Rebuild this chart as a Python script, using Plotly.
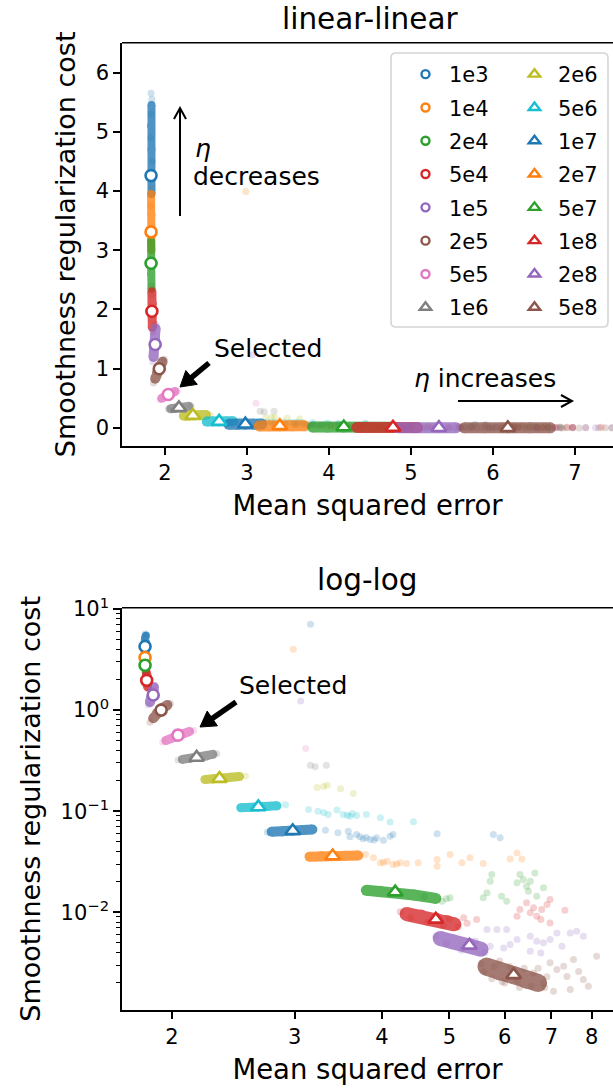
import math
import plotly.graph_objects as go

W, H = 613, 1090
FONT = "DejaVu Sans"

# ---------------- data ----------------
eta_labels = ["1e3", "1e4", "2e4", "5e4", "1e5", "2e5", "5e5", "1e6",
              "2e6", "5e6", "1e7", "2e7", "5e7", "1e8", "2e8", "5e8"]
sel_mse = [1.83, 1.83, 1.83, 1.84, 1.88, 1.93, 2.04, 2.17,
           2.34, 2.66, 2.98, 3.40, 4.18, 4.78, 5.34, 6.18]
sel_cost = [4.26, 3.31, 2.78, 1.97, 1.41, 1.00, 0.565, 0.34,
            0.21, 0.11, 0.064, 0.036, 0.0158, 0.0085, 0.0047, 0.0024]

# dense cores of each cloud (mse, cost)
core_1e3 = [(1.835, 3.95), (1.83, 4.3), (1.835, 4.7), (1.83, 5.1), (1.835, 5.45)]
core_1e4 = [(1.835, 3.0), (1.83, 3.3), (1.835, 3.6), (1.83, 3.95)]
core_2e4 = [(1.835, 2.35), (1.83, 2.6), (1.835, 2.85), (1.83, 3.15)]
core_5e4 = [(1.845, 1.7), (1.84, 1.9), (1.845, 2.1), (1.84, 2.3)]
core_1e5 = [(1.86, 1.2), (1.87, 1.35), (1.88, 1.5), (1.885, 1.68)]
core_2e5 = [(1.88, 0.83), (1.905, 0.94), (1.935, 1.04), (1.97, 1.12)]
core_5e5 = [(1.96, 0.50), (2.0, 0.53), (2.04, 0.565), (2.08, 0.59), (2.12, 0.615)]
core_1e6 = [(2.07, 0.325), (2.12, 0.332), (2.18, 0.34), (2.24, 0.35), (2.29, 0.365)]
core_2e6 = [(2.23, 0.206), (2.29, 0.209), (2.35, 0.212), (2.43, 0.216), (2.50, 0.22)]
core_5e6 = [(2.51, 0.108), (2.58, 0.109), (2.66, 0.11), (2.75, 0.111), (2.83, 0.113)]
core_1e7 = [(2.78, 0.0625), (2.88, 0.063), (2.98, 0.064), (3.08, 0.065), (3.18, 0.066)]
core_2e7 = [(3.15, 0.0355), (3.27, 0.0358), (3.40, 0.036), (3.55, 0.0362), (3.70, 0.0365)]
core_5e7 = [(3.80, 0.0165), (3.98, 0.0161), (4.18, 0.0157), (4.45, 0.0148), (4.78, 0.0137)]
core_1e8 = [(4.34, 0.0096), (4.55, 0.0091), (4.78, 0.0085), (4.95, 0.008), (5.08, 0.0076)]
core_2e8 = [(4.85, 0.0055), (5.05, 0.0051), (5.34, 0.0047), (5.55, 0.0043)]
core_5e8 = [(5.65, 0.0029), (5.9, 0.0026), (6.18, 0.0024), (6.45, 0.00215), (6.7, 0.002)]

# sparse / stray points of each cloud (mse, cost)
stray_1e3 = [(1.83, 5.65), (1.84, 5.55), (1.83, 5.3), (1.825, 4.9), (1.845, 4.5), (3.16, 7.06)]
stray_1e4 = [(1.84, 4.05), (1.825, 3.75), (2.985, 3.99)]
stray_2e4 = [(1.84, 2.25), (1.825, 3.2)]
stray_5e4 = [(1.85, 1.62), (1.835, 2.4)]
stray_1e5 = [(1.85, 1.12), (1.89, 1.75), (3.06, 1.23)]
stray_2e5 = [(1.86, 0.76), (1.99, 1.16)]
stray_5e5 = [(1.94, 0.48), (2.15, 0.63), (3.11, 0.417)]
stray_1e6 = [(2.04, 0.32), (2.32, 0.37), (3.16, 0.284), (3.21, 0.275), (3.33, 0.284)]
stray_2e6 = [(2.55, 0.223), (3.23, 0.171), (3.34, 0.18), (3.30, 0.175), (3.49, 0.167), (3.64, 0.15)]
stray_5e6 = [(2.91, 0.116), (3.14, 0.104), (3.24, 0.100), (3.35, 0.0927), (3.45, 0.1025),
             (3.52, 0.0927), (3.60, 0.0892), (3.68, 0.0906), (3.80, 0.0927), (3.98, 0.0861),
             (4.11, 0.0781), (4.44, 0.0786), (3.57, 0.091), (3.63, 0.095), (3.30, 0.097)]
stray_1e7 = [(2.74, 0.062), (3.32, 0.0649), (3.46, 0.0611), (3.58, 0.0634), (3.60, 0.0558),
             (3.68, 0.0588), (3.76, 0.0533), (3.85, 0.0525), (3.93, 0.0545), (4.02, 0.0517),
             (4.11, 0.0565), (4.15, 0.0588), (4.80, 0.0597), (5.78, 0.0588), (5.91, 0.0545),
             (3.72, 0.056), (3.80, 0.055), (3.90, 0.052)]
stray_2e7 = [(3.79, 0.0373), (3.89, 0.0346), (3.98, 0.0308), (4.07, 0.032), (4.15, 0.0297),
             (4.25, 0.0308), (4.34, 0.0303), (4.51, 0.0308), (4.80, 0.0332), (4.80, 0.0285),
             (5.01, 0.0373), (5.21, 0.0308), (5.35, 0.0346), (5.59, 0.0303), (6.11, 0.0336),
             (6.25, 0.0386), (6.35, 0.0336), (4.02, 0.031), (4.20, 0.030)]
stray_5e7 = [(4.88, 0.01285), (5.01, 0.0139), (5.59, 0.0139), (5.66, 0.01556), (5.72, 0.0203),
             (5.75, 0.0236), (5.94, 0.0144), (6.04, 0.01285), (6.25, 0.01954), (6.31, 0.0236),
             (6.38, 0.0211), (6.45, 0.0181), (6.53, 0.0203), (6.49, 0.01614), (6.67, 0.0144),
             (6.82, 0.01745), (6.63, 0.0245), (4.60, 0.0142), (4.95, 0.0136)]
stray_1e8 = [(5.24, 0.0088), (5.47, 0.00847), (6.25, 0.00913), (6.31, 0.01064), (6.45, 0.0124),
             (6.53, 0.00986), (6.60, 0.01105), (6.67, 0.00913), (6.78, 0.01064), (6.90, 0.0119),
             (6.97, 0.01336), (6.97, 0.00785), (7.32, 0.01047), (6.76, 0.00847), (4.40, 0.0088),
             (4.65, 0.0079), (5.0, 0.0086), (4.9, 0.0074), (4.25, 0.0101), (5.15, 0.0072),
             (5.30, 0.0078)]
stray_2e8 = [(5.66, 0.00675), (5.85, 0.00675), (6.04, 0.00675), (5.72, 0.00461), (5.98, 0.00444),
             (6.11, 0.00479), (6.25, 0.00537), (6.53, 0.00579), (6.67, 0.00516), (6.82, 0.00498),
             (6.97, 0.00537), (7.13, 0.00625), (7.25, 0.00461), (7.45, 0.00625), (7.61, 0.00649),
             (7.78, 0.00579), (6.53, 0.00411), (6.76, 0.00396), (4.95, 0.0049), (5.2, 0.0042),
             (5.45, 0.0052), (4.78, 0.0058), (5.62, 0.0040)]
stray_5e8 = [(6.97, 0.00316), (7.13, 0.00271), (7.29, 0.00292), (7.37, 0.00232), (7.53, 0.0034),
             (7.66, 0.0026), (7.78, 0.00216), (7.91, 0.00185), (8.13, 0.00367), (7.45, 0.00172),
             (7.05, 0.00165), (6.82, 0.002), (5.6, 0.0026), (5.9, 0.0033), (6.0, 0.0020),
             (6.4, 0.0028), (6.3, 0.0018), (5.75, 0.0022), (6.6, 0.0025), (6.9, 0.0023),
             (5.55, 0.0031), (5.8, 0.0029), (6.1, 0.0029), (6.25, 0.0021), (6.55, 0.00185),
             (5.95, 0.00205), (6.7, 0.0028), (6.85, 0.0018)]

cores = [core_1e3, core_1e4, core_2e4, core_5e4, core_1e5, core_2e5, core_5e5, core_1e6,
         core_2e6, core_5e6, core_1e7, core_2e7, core_5e7, core_1e8, core_2e8, core_5e8]
strays = [stray_1e3, stray_1e4, stray_2e4, stray_5e4, stray_1e5, stray_2e5, stray_5e5, stray_1e6,
          stray_2e6, stray_5e6, stray_1e7, stray_2e7, stray_5e7, stray_1e8, stray_2e8, stray_5e8]

lin_xticks = [2, 3, 4, 5, 6, 7]
lin_yticks = [0, 1, 2, 3, 4, 5, 6]
log_xticks = [2, 3, 4, 5, 6, 7, 8]
log_yticks = [0.01, 0.1, 1, 10]
log_yticktext = ["10<sup>\u22122</sup>", "10<sup>\u22121</sup>", "10<sup>0</sup>", "10<sup>1</sup>"]

# ---------------- style ----------------
colors = ["#1f77b4", "#ff7f0e", "#2ca02c", "#d62728", "#9467bd", "#8c564b", "#e377c2", "#7f7f7f",
          "#bcbd22", "#17becf", "#1f77b4", "#ff7f0e", "#2ca02c", "#d62728", "#9467bd", "#8c564b"]
core_width_lin = [8, 8, 8, 9, 10, 10, 9, 9, 10, 10, 11, 11, 11, 11, 11, 11]
core_width_log = [8, 8, 8, 9, 10, 10, 9, 9, 9, 9, 10, 10, 11, 14, 15, 18]
n_circle = 7


def PX(px):
    return px / W


def PY(py):
    return 1 - py / H


fig = go.Figure()

for xa, ya, widths in [("x", "y", core_width_lin), ("x2", "y2", core_width_log)]:
    for i in range(len(eta_labels)):
        c = colors[i]
        sx = [p[0] for p in strays[i]]
        sy = [p[1] for p in strays[i]]
        fig.add_trace(go.Scatter(x=sx, y=sy, mode="markers", xaxis=xa, yaxis=ya,
                                 marker=dict(color=c, size=7, opacity=0.22, line=dict(width=0)),
                                 showlegend=False, hoverinfo="skip"))
    for i in range(len(eta_labels)):
        c = colors[i]
        cx = [p[0] for p in cores[i]]
        cy = [p[1] for p in cores[i]]
        fig.add_trace(go.Scatter(x=cx, y=cy, mode="lines+markers", xaxis=xa, yaxis=ya,
                                 line=dict(color=c, width=widths[i]),
                                 marker=dict(color=c, size=widths[i], line=dict(width=0)),
                                 opacity=0.78, showlegend=False, hoverinfo="skip"))
    for i in range(len(eta_labels)):
        c = colors[i]
        circ = i < n_circle
        fig.add_trace(go.Scatter(x=[sel_mse[i]], y=[sel_cost[i]], mode="markers",
                                 xaxis=xa, yaxis=ya,
                                 marker=dict(symbol="circle" if circ else "triangle-up",
                                             size=11 if circ else 13, color="white",
                                             line=dict(color=c, width=2.6)),
                                 showlegend=False, hoverinfo="skip"))

# legend entries (two columns -> two legends)
for i, lab in enumerate(eta_labels):
    circ = i < n_circle
    fig.add_trace(go.Scatter(x=[None], y=[None], mode="markers", xaxis="x", yaxis="y",
                             name=lab, legend="legend" if i < 8 else "legend2",
                             legendgroup=lab,
                             marker=dict(symbol="circle" if circ else "triangle-up",
                                         size=8 if circ else 10, color="white",
                                         line=dict(color=colors[i], width=2.4)),
                             showlegend=True))

axis_common = dict(showgrid=False, zeroline=False, showline=True, linecolor="black",
                   linewidth=1.6, ticks="outside", ticklen=7, tickwidth=1.6,
                   tickcolor="black", tickfont=dict(family=FONT, size=21, color="black"),
                   automargin=False)
title_font = dict(family=FONT, size=27.5, color="black")

top_dom = [PY(446), PY(42.7)]
bot_dom = [PY(1010), PY(607.7)]
xdom = [PX(122), 1.0]

minor_vals = []
for d in [0.001, 0.01, 0.1, 1]:
    for k in range(2, 10):
        minor_vals.append(k * d)

legend_common = dict(xanchor="left", yanchor="top",
                     font=dict(family=FONT, size=21, color="black"),
                     bgcolor="rgba(0,0,0,0)", borderwidth=0, itemwidth=37,
                     tracegroupgap=3)

fig.update_layout(
    width=W, height=H, autosize=False,
    margin=dict(l=0, r=0, t=0, b=0, pad=0, autoexpand=False),
    paper_bgcolor="white", plot_bgcolor="white",
    font=dict(family=FONT, color="black"),
    xaxis=dict(domain=xdom, range=[1.4756, 7.463], tickmode="array", tickvals=lin_xticks,
               anchor="y", title=dict(text="Mean squared error", font=title_font, standoff=12),
               **axis_common),
    yaxis=dict(domain=top_dom, range=[-0.304, 6.503], tickmode="array", tickvals=lin_yticks,
               anchor="x",
               title=dict(text="Smoothness regularization cost", font=dict(title_font, size=27),
                          standoff=12),
               **axis_common),
    xaxis2=dict(domain=xdom, type="log", range=[0.2294, 0.9335], tickmode="array",
                tickvals=log_xticks, ticktext=[str(v) for v in log_xticks], anchor="y2",
                title=dict(text="Mean squared error", font=title_font, standoff=12),
                **axis_common),
    yaxis2=dict(domain=bot_dom, type="log", range=[-2.967, 1.013], tickmode="array",
                tickvals=log_yticks, ticktext=log_yticktext, anchor="x2",
                minor=dict(ticks="outside", ticklen=4, tickwidth=1.2, tickcolor="black",
                           tickmode="array", tickvals=minor_vals, showgrid=False),
                title=dict(text="Smoothness regularization cost", font=dict(title_font, size=27),
                           standoff=12),
                **axis_common),
    legend=dict(x=PX(402), y=PY(54), **legend_common),
    legend2=dict(x=PX(511), y=PY(54), **legend_common),
    showlegend=True,
)

shapes = []
# top spines
for dom in (top_dom, bot_dom):
    shapes.append(dict(type="line", xref="paper", yref="paper", x0=xdom[0], x1=1.0,
                       y0=dom[1], y1=dom[1], line=dict(color="black", width=1.6)))

# rounded legend frame
lx0, lx1, ly0, ly1 = 391, 608, 53, 327
r = 5
path = (f"M {PX(lx0 + r)},{PY(ly0)} L {PX(lx1 - r)},{PY(ly0)} "
        f"Q {PX(lx1)},{PY(ly0)} {PX(lx1)},{PY(ly0 + r)} L {PX(lx1)},{PY(ly1 - r)} "
        f"Q {PX(lx1)},{PY(ly1)} {PX(lx1 - r)},{PY(ly1)} L {PX(lx0 + r)},{PY(ly1)} "
        f"Q {PX(lx0)},{PY(ly1)} {PX(lx0)},{PY(ly1 - r)} L {PX(lx0)},{PY(ly0 + r)} "
        f"Q {PX(lx0)},{PY(ly0)} {PX(lx0 + r)},{PY(ly0)} Z")
shapes.append(dict(type="path", xref="paper", yref="paper", path=path, layer="above",
                   fillcolor="rgba(255,255,255,0.8)", line=dict(color="#d5d5d5", width=1.6)))


def arrow_shapes(tail, tip, filled, shaft_w, head_len, head_half):
    (x0, y0), (x1, y1) = tail, tip
    dx, dy = x1 - x0, y1 - y0
    L = math.hypot(dx, dy)
    ux, uy = dx / L, dy / L
    nx, ny = -uy, ux
    bx, by = x1 - head_len * ux, y1 - head_len * uy
    c1 = (bx + head_half * nx, by + head_half * ny)
    c2 = (bx - head_half * nx, by - head_half * ny)
    if filled:
        shapes.append(dict(type="line", xref="paper", yref="paper",
                           x0=PX(x0), y0=PY(y0), x1=PX(bx + ux), y1=PY(by + uy),
                           line=dict(color="black", width=shaft_w)))
        p = (f"M {PX(x1)},{PY(y1)} L {PX(c1[0])},{PY(c1[1])} "
             f"L {PX(c2[0])},{PY(c2[1])} Z")
        shapes.append(dict(type="path", xref="paper", yref="paper", path=p,
                           fillcolor="black", line=dict(color="black", width=1)))
    else:
        shapes.append(dict(type="line", xref="paper", yref="paper",
                           x0=PX(x0), y0=PY(y0), x1=PX(x1), y1=PY(y1),
                           line=dict(color="black", width=shaft_w)))
        p = (f"M {PX(c1[0])},{PY(c1[1])} L {PX(x1)},{PY(y1)} "
             f"L {PX(c2[0])},{PY(c2[1])}")
        shapes.append(dict(type="path", xref="paper", yref="paper", path=p,
                           line=dict(color="black", width=shaft_w)))


arrow_shapes((180, 216), (180, 108), False, 2, 11, 6)
arrow_shapes((458, 401), (572, 401), False, 2, 11, 6)
arrow_shapes((209, 363), (180, 387), True, 5.5, 15, 9)
arrow_shapes((236, 702), (200, 727), True, 5.5, 15, 9)

fig.update_layout(shapes=shapes)

ann = []


def text(px, py, s, size, xanchor="center", angle=0):
    ann.append(dict(x=PX(px), y=PY(py), xref="paper", yref="paper", text=s, showarrow=False,
                    xanchor=xanchor, yanchor="middle", textangle=angle,
                    font=dict(family=FONT, size=size, color="black")))


text(370, 19, "linear-linear", 29.5)
text(367, 580, "log-log", 29.5)

text(193, 149, "<i>\u03b7</i>", 25, xanchor="left")
text(191, 177, "decreases", 25, xanchor="left")
text(268, 348, "Selected", 25)
text(485, 379, "<i>\u03b7</i> increases", 25)
text(293, 685, "Selected", 25)

fig.update_layout(annotations=ann)

fig.write_html("out.html")
